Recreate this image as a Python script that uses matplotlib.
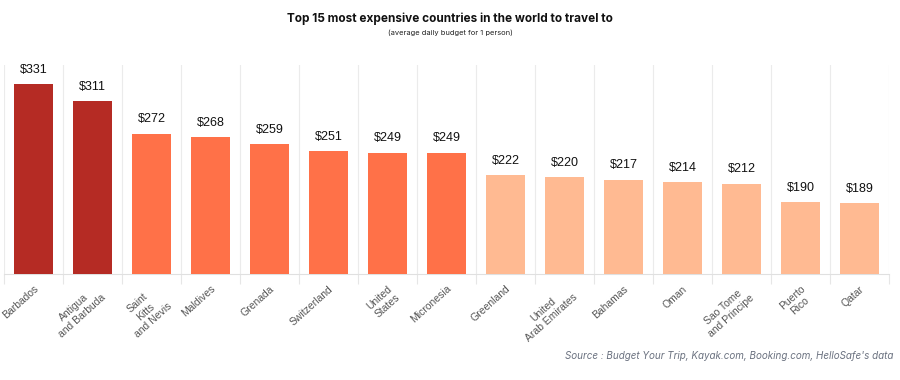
import matplotlib.pyplot as plt
from matplotlib.ticker import FixedLocator

countries = ['Barbados', 'Antigua\nand Barbuda', 'Saint\nKitts\nand Nevis', 'Maldives',
             'Grenada', 'Switzerland', 'United\nStates', 'Micronesia', 'Greenland',
             'United\nArab Emirates', 'Bahamas', 'Oman', 'Sao Tome\nand Principe',
             'Puerto\nRico', 'Qatar']
budget = [331, 311, 272, 268, 259, 251, 249, 249, 222, 220, 217, 214, 212, 190, 189]
tier = [0, 0, 1, 1, 1, 1, 1, 1, 2, 2, 2, 2, 2, 2, 2]
tier_colors = ['#B52B24', '#FF7148', '#FFBA92']

plt.rcParams['font.family'] = ['Liberation Sans', 'DejaVu Sans']

fig = plt.figure(figsize=(9, 3.8), dpi=100)
ax = fig.add_axes([4 / 900, 1 - 274 / 380, 885 / 900, 209 / 380])

x = list(range(len(countries)))
colors = [tier_colors[t] for t in tier]
ax.bar(x, budget, width=0.66, color=colors, zorder=3)

for xi, v in zip(x, budget):
    ax.annotate(f'${v}', (xi, v), xytext=(0, 6), textcoords='offset points',
                ha='center', va='bottom', fontsize=9, color='#111111')

ax.set_xlim(-0.5, len(countries) - 0.5)
ax.set_ylim(104, 354)
ax.set_yticks([])

ax.set_xticks(x)
ax.set_xticklabels(countries, rotation=42, ha='right', rotation_mode='anchor',
                   fontsize=7.5, color='#555555', multialignment='center')
ax.tick_params(axis='x', which='major', length=0, pad=7)
ax.xaxis.set_minor_locator(FixedLocator([i - 0.5 for i in range(len(countries) + 1)]))
ax.tick_params(axis='x', which='minor', length=7, color='#E6E6E6', width=0.8)
ax.grid(axis='x', which='minor', color='#EBEBEB', linewidth=0.8, zorder=0)

for side in ['top', 'right', 'left']:
    ax.spines[side].set_visible(False)
ax.spines['bottom'].set_color('#E0E0E0')
ax.spines['bottom'].set_linewidth(0.8)

fig.text(0.5, 1 - 19 / 380, 'Top 15 most expensive countries in the world to travel to',
         ha='center', va='center', fontsize=8.5, fontweight='bold', family='Inter', color='#111111')
fig.text(0.5, 1 - 33 / 380, '(average daily budget for 1 person)',
         ha='center', va='center', fontsize=5.4, family='Inter', color='#222222')
fig.text(893 / 900, 1 - 356 / 380,
         "Source : Budget Your Trip, Kayak.com, Booking.com, HelloSafe's data",
         ha='right', va='center', fontsize=7.1, style='italic', family='Inter', color='#6B7280')

fig.savefig('out.png', dpi=100)
